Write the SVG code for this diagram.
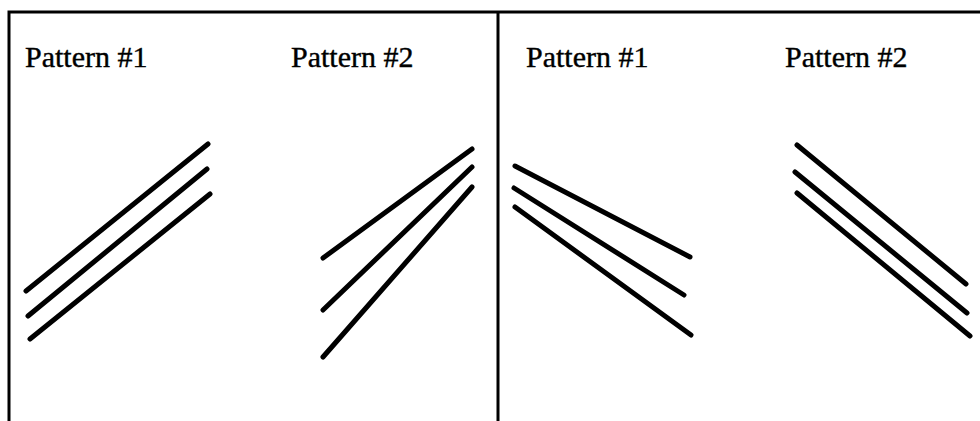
<svg xmlns="http://www.w3.org/2000/svg" width="980" height="421" viewBox="0 0 980 421">
<style>
.frame{stroke:#000;stroke-width:3;fill:none}
.ln{stroke:#000;stroke-width:5;stroke-linecap:round;fill:none}
.lbl{font-family:"Liberation Serif","Times New Roman",serif;font-size:30px;fill:#000;stroke:#000;stroke-width:0.4}
</style>
<rect width="980" height="421" fill="#fff"/>
<g id="frame">
<path class="frame" d="M9,421 V12 H980"/>
<path class="frame" d="M498,12 V421"/>
</g>
<g id="panel1-pattern1">
<text class="lbl" x="25" y="67">Pattern #1</text>
<line class="ln" x1="26" y1="291" x2="208" y2="144"/>
<line class="ln" x1="28" y1="316" x2="207" y2="169"/>
<line class="ln" x1="30" y1="339" x2="210" y2="194"/>
</g>
<g id="panel1-pattern2">
<text class="lbl" x="291" y="67">Pattern #2</text>
<line class="ln" x1="323" y1="258" x2="472" y2="149"/>
<line class="ln" x1="323" y1="310" x2="472" y2="167"/>
<line class="ln" x1="323" y1="357" x2="472" y2="187"/>
</g>
<g id="panel2-pattern1">
<text class="lbl" x="526" y="67">Pattern #1</text>
<line class="ln" x1="515" y1="166" x2="690" y2="257"/>
<line class="ln" x1="514" y1="188" x2="684" y2="295"/>
<line class="ln" x1="515" y1="207" x2="691" y2="335"/>
</g>
<g id="panel2-pattern2">
<text class="lbl" x="785" y="67">Pattern #2</text>
<line class="ln" x1="797" y1="145" x2="966" y2="284"/>
<line class="ln" x1="795" y1="172" x2="967" y2="313"/>
<line class="ln" x1="797" y1="193" x2="970" y2="336"/>
</g>
</svg>
